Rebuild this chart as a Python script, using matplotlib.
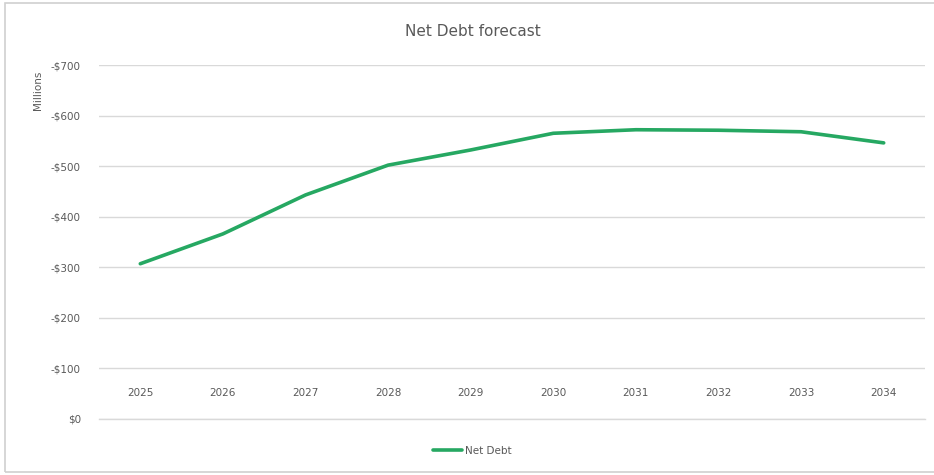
import matplotlib.pyplot as plt
from matplotlib.patches import Rectangle

# net debt forecast, in millions (negative = debt)
years = ['2025', '2026', '2027', '2028', '2029', '2030', '2031', '2032', '2033', '2034']
net_debt = [-307, -366, -443, -502, -532, -565, -572, -571, -568, -546]
y_ticks = [0, -100, -200, -300, -400, -500, -600, -700]
y_tick_labels = ['$0', '-$100', '-$200', '-$300', '-$400', '-$500', '-$600', '-$700']

line_green = '#26a862'
text_grey = '#595959'
grid_grey = '#d9d9d9'

fig = plt.figure(figsize=(9.34, 4.75), dpi=100)
fig.patch.set_facecolor('white')

# light frame round the chart
fig.patches.append(Rectangle((5 / 934, 3 / 475), 935 / 934, 469 / 475, transform=fig.transFigure,
                             fill=False, edgecolor='#d0d0d0', linewidth=1.2))

ax = fig.add_axes([99 / 934, 56 / 475, 826 / 934, 354 / 475])

x = list(range(len(years)))
ax.plot(x, net_debt, color=line_green, linewidth=2.6, solid_joinstyle='round',
        solid_capstyle='round', label='Net Debt', zorder=3)

ax.set_xlim(-0.5, len(years) - 0.5)
ax.set_ylim(0, -700)
ax.set_yticks(y_ticks)
ax.set_yticklabels(y_tick_labels)
ax.set_xticks(x)
ax.set_xticklabels(years)

ax.grid(axis='y', color=grid_grey, linewidth=1.0)
ax.axhline(0, color=grid_grey, linewidth=1.0, clip_on=False, zorder=1)
ax.set_axisbelow(True)
for side in ['top', 'right', 'left', 'bottom']:
    ax.spines[side].set_visible(False)

ax.tick_params(axis='y', length=0, pad=13, labelsize=7.5, labelcolor=text_grey)
# category labels sit just above the $0 line
ax.tick_params(axis='x', length=0, pad=-22, labelsize=7.5, labelcolor=text_grey)

fig.text(473 / 934, 443 / 475, 'Net Debt forecast', ha='center', va='center',
         fontsize=11, color=text_grey)
fig.text(38 / 934, 385 / 475, 'Millions', ha='center', va='center', rotation=90,
         fontsize=7.5, color=text_grey)

fig.legend(loc='center', bbox_to_anchor=(472 / 934, 24 / 475), frameon=False,
           fontsize=7.5, labelcolor=text_grey, handlelength=2.8, handletextpad=0.3)

fig.savefig('out.png', dpi=100, facecolor='white')
